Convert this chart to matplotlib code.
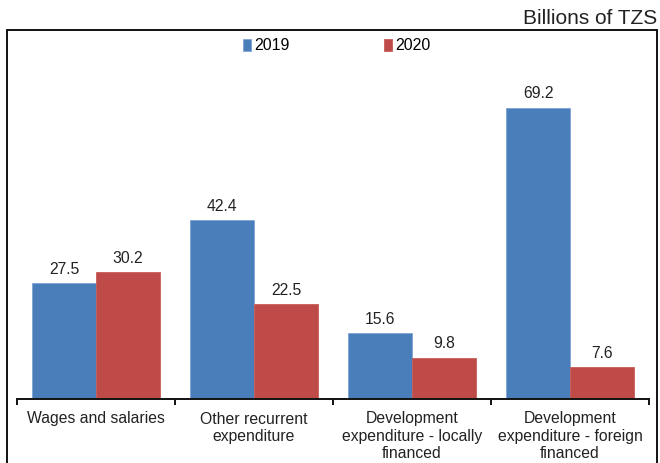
import matplotlib
matplotlib.use("Agg")
import matplotlib.pyplot as plt
import numpy as np
from matplotlib.patches import Rectangle

plt.rcParams['font.family'] = ['Liberation Sans', 'DejaVu Sans']

categories = ["Wages and salaries", "Other recurrent\nexpenditure",
              "Development\nexpenditure - locally\nfinanced",
              "Development\nexpenditure - foreign\nfinanced"]
values_2019 = [27.5, 42.4, 15.6, 69.2]
values_2020 = [30.2, 22.5, 9.8, 7.6]
series_names = ["2019", "2020"]
unit_label = "Billions of TZS"

W, H = 660, 463
fig = plt.figure(figsize=(W / 100, H / 100), dpi=100)

# plot area in pixel coordinates
left, right, top, bottom = 17, 649, 30, 399
ax = fig.add_axes([left / W, 1 - bottom / H, (right - left) / W, (bottom - top) / H])

blue = "#4A7EBB"
red = "#BE4B48"
x = np.arange(len(categories))
bw = 0.405
b1 = ax.bar(x - bw / 2, values_2019, bw, color=blue, edgecolor="#7FA3D3",
            linewidth=0.6, label=series_names[0])
b2 = ax.bar(x + bw / 2, values_2020, bw, color=red, edgecolor="#C65D5A",
            linewidth=0.6, label=series_names[1])

for bars in (b1, b2):
    for rect in bars:
        ax.annotate(f"{rect.get_height():.1f}",
                    (rect.get_x() + rect.get_width() / 2, rect.get_height()),
                    xytext=(0, 4.5), textcoords="offset points",
                    ha="center", va="bottom", fontsize=11.3, color="#222222")

ax.set_xlim(-0.5, len(categories) - 0.5)
ax.set_ylim(0, 87.6)
ax.set_yticks([])
for s in ("left", "right", "top"):
    ax.spines[s].set_visible(False)
ax.spines["bottom"].set_linewidth(1.4)
ax.spines["bottom"].set_color("#111111")

# category separators as tick marks, labels centred between them
ax.set_xticks(np.arange(-0.5, len(categories)), minor=False)
ax.set_xticklabels([])
ax.tick_params(axis="x", which="major", direction="out", length=4.5, width=1.4, color="#111111")
ax.set_xticks(x, minor=True)
ax.set_xticklabels(categories, minor=True, fontsize=11.3, color="#222222", linespacing=1.2)
ax.tick_params(axis="x", which="minor", length=0, pad=9)

leg = fig.legend(handles=[b1, b2], labels=series_names, loc="center",
                 bbox_to_anchor=(337 / W, 1 - 46 / H), ncol=2, frameon=False,
                 handlelength=0.5, handleheight=0.7, handletextpad=0.2,
                 columnspacing=5.9, fontsize=11.5)

fig.text(657 / W, 1 - 18 / H, unit_label, ha="right", va="center", fontsize=15, color="#222222")

# outer frame around the chart
fig.patches.append(Rectangle((7 / W, -0.05), (657 - 7) / W, 1.05 - 30 / H,
                             transform=fig.transFigure, fill=False,
                             edgecolor="#111111", linewidth=1.4))

fig.savefig("out.png", dpi=100)
